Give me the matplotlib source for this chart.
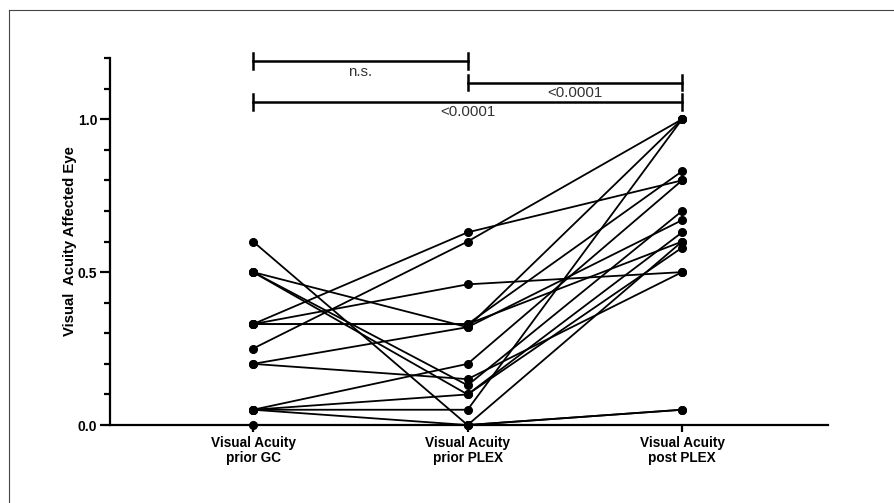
import numpy as np
import matplotlib
matplotlib.use("Agg")
import matplotlib.pyplot as plt
from matplotlib.lines import Line2D

plt.rcParams['font.family'] = ['Liberation Sans', 'DejaVu Sans']

# group labels
groups = ["Visual Acuity\nprior GC", "Visual Acuity\nprior PLEX", "Visual Acuity\npost PLEX"]

# one entry per patient
prior_gc = [0.60, 0.50, 0.50, 0.50, 0.33, 0.33, 0.33, 0.25, 0.20, 0.20, 0.05, 0.05, 0.05, 0.05, 0.33, 0.00]
prior_plex = [0.00, 0.32, 0.13, 0.10, 0.63, 0.46, 0.33, 0.60, 0.32, 0.15, 0.20, 0.10, 0.05, 0.00, 0.33, 0.00]
post_plex = [0.60, 1.00, 0.70, 0.63, 0.80, 0.50, 0.83, 1.00, 0.67, 0.50, 0.80, 0.58, 1.00, 0.05, 0.60, 0.05]

# significance brackets: (start group, end group, height, label)
brackets = [(0, 1, 1.19, "n.s."), (1, 2, 1.12, "<0.0001"), (0, 2, 1.057, "<0.0001")]


fig = plt.figure(figsize=(8.95, 5.03), dpi=100)
ax = fig.add_axes([0.1229, 0.155, 0.8022, 0.7296])

data = np.array([prior_gc, prior_plex, post_plex])
xpos = np.arange(len(groups))
for i in range(data.shape[1]):
    ax.plot(xpos, data[:, i], color="black", lw=1.3, marker="o", ms=5.5,
            clip_on=False, zorder=3)

ax.set_xlim(-0.667, 2.68)
ax.set_ylim(0, 1.2)
ax.set_yticks([0.0, 0.5, 1.0])
ax.set_yticklabels(["0.0", "0.5", "1.0"], fontweight="bold", fontsize=10)
ax.set_yticks(np.arange(0, 1.21, 0.1), minor=True)
ax.set_xticks(xpos)
ax.set_xticklabels(groups, fontweight="bold", fontsize=9.8, linespacing=1.1)
ax.tick_params(axis="y", which="major", length=7, width=1.6, pad=2)
ax.tick_params(axis="y", which="minor", length=4, width=1.6)
ax.tick_params(axis="x", length=5, width=1.6, pad=3)
ax.set_ylabel("Visual  Acuity Affected Eye", fontweight="bold", fontsize=10.7, labelpad=0.5)

for s in ["top", "right"]:
    ax.spines[s].set_visible(False)
for s in ["left", "bottom"]:
    ax.spines[s].set_linewidth(1.6)

# brackets
for x0, x1, h, label in brackets:
    ax.plot([x0, x1], [h, h], color="black", lw=1.8, clip_on=False)
    for xe in (x0, x1):
        ax.plot([xe, xe], [h - 0.026, h + 0.026], color="black", lw=1.8, clip_on=False)
    ax.text((x0 + x1) / 2, h - 0.012, label, ha="center", va="top",
            fontsize=10.8, color="#333333")

# frame around the figure (top and left edges visible)
fig.add_artist(Line2D([9 / 895, 9 / 895], [0, 1 - 10 / 503], color="#444444", lw=0.8))
fig.add_artist(Line2D([9 / 895, 1], [1 - 10 / 503, 1 - 10 / 503], color="#444444", lw=0.8))

fig.savefig("out.png", dpi=100)
